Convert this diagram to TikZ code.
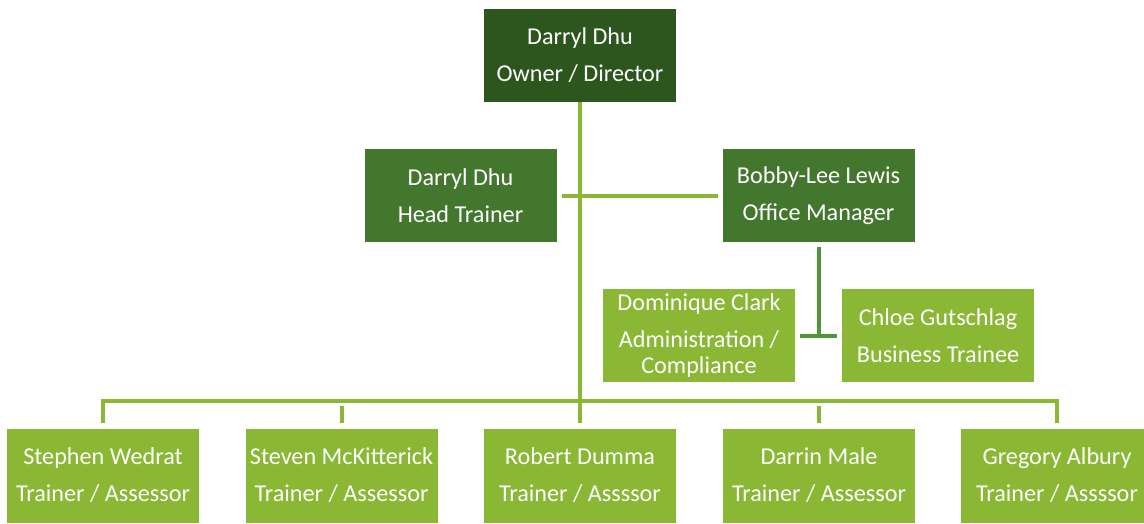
\documentclass[tikz,border=0pt]{standalone}
\usepackage{fontspec}
\setmainfont{Carlito}
\definecolor{darkg}{RGB}{45,86,30}
\definecolor{midg}{RGB}{66,119,45}
\definecolor{lightg}{RGB}{138,184,52}
\definecolor{lineg}{RGB}{80,150,54}
\begin{document}
\begin{tikzpicture}[x=1pt,y=-1pt,
  box/.style={minimum width=192pt,minimum height=93pt,inner sep=0pt,text=white,align=center,
    font=\fontsize{24.2}{37}\selectfont},
  conn/.style={line width=4pt,draw=lightg,line join=miter},
  conn2/.style={line width=4pt,draw=lineg,line join=miter}]
\useasboundingbox (0,0) rectangle (1144,523);
\node[box,fill=darkg] (top) at (580,55.5) {Darryl Dhu\\Owner / Director};
\node[box,fill=midg] (head) at (460.5,195.5) {Darryl Dhu\\Head Trainer};
\node[box,fill=midg] (office) at (818.5,195.5) {Bobby-Lee Lewis\\Office Manager};
\node[box,fill=lightg] (dom) at (699,335.5) {Dominique Clark\\Administration /\\[-11pt]Compliance};
\node[box,fill=lightg] (chloe) at (938,335.5) {Chloe Gutschlag\\Business Trainee};
\node[box,fill=lightg,minimum height=94pt] (b1) at (103,475.5) {Stephen Wedrat\\Trainer / Assessor};
\node[box,fill=lightg,minimum height=94pt] (b2) at (341.5,475.5) {Steven McKitterick\\Trainer / Assessor};
\node[box,fill=lightg,minimum height=94pt] (b3) at (580,475.5) {Robert Dumma\\Trainer / Assssor};
\node[box,fill=lightg,minimum height=94pt] (b4) at (819,475.5) {Darrin Male\\Trainer / Assessor};
\node[box,fill=lightg,minimum height=94pt] (b5) at (1057,475.5) {Gregory Albury\\Trainer / Assssor};
\coordinate (bus) at (580,406);
\draw[conn] (top.south) -- (bus);
\draw[conn] ([xshift=5.5pt]head.east) -- ([xshift=-4.5pt]office.west);
\draw[conn] ([yshift=5pt]b1.north) |- ([yshift=5pt]b5.north |- bus) -- ([yshift=5pt]b5.north);
\foreach \b in {b2,b3,b4}{\draw[conn] ([yshift=5pt]\b.north) -- (\b.north |- bus);}
\draw[conn2] ([yshift=-5pt]office.south) -- (office.south |- chloe.west);
\draw[conn2] ([xshift=5pt]dom.east |- chloe.west) -- ([xshift=-5pt]chloe.west);
\end{tikzpicture}
\end{document}
